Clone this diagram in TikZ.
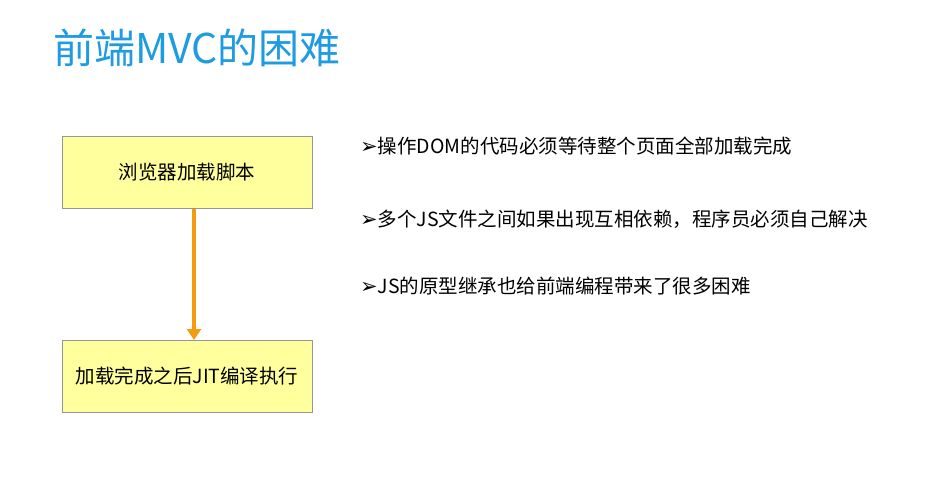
\documentclass[tikz,border=0pt]{standalone}
\usepackage{fontspec}
\setmainfont{Noto Sans CJK SC}
\newfontfamily\symfont{DejaVu Sans}
\usepackage{xcolor}
\definecolor{TitleBlue}{RGB}{30,155,225}
\definecolor{BoxFill}{RGB}{255,255,158}
\definecolor{BoxLine}{RGB}{150,150,150}
\definecolor{ArrowOrange}{RGB}{243,156,18}
\usetikzlibrary{arrows.meta}
\tikzstyle{StepBox}=[rectangle,draw=BoxLine,fill=BoxFill,line width=1pt,
minimum width=250pt,minimum height=72pt,inner sep=0pt,
font=\fontsize{19.5}{22}\selectfont]
\tikzstyle{Flow}=[draw=ArrowOrange,line width=3.5pt,
-{Triangle[width=14pt,length=11pt]}]
\tikzstyle{Point}=[anchor=west,inner sep=0pt,font=\fontsize{19.5}{22}\selectfont]
\tikzstyle{Title}=[anchor=west,inner sep=0pt,text=TitleBlue,
font=\fontsize{41}{45}\selectfont]
\newcommand{\Bul}{{\symfont\fontsize{21}{24}\selectfont ➢}}

\begin{document}
\begin{tikzpicture}[x=1pt,y=-1pt]
    \useasboundingbox(0,0)rectangle(935,483);
    \node[Title](title)at(53,48){前端MVC的困难};
    \node[StepBox](load)at(187,172.5){浏览器加载脚本};
    \node[StepBox](jit)at(187,376.5){加载完成之后JIT编译执行};
    \draw[Flow]([xshift=7pt]load.south)--([xshift=7pt]jit.north);
    \node[Point](p1)at(360,146){\Bul 操作DOM的代码必须等待整个页面全部加载完成};
    \node[Point](p2)at(360,219){\Bul 多个JS文件之间如果出现互相依赖，程序员必须自己解决};
    \node[Point](p3)at(360,286){\Bul JS的原型继承也给前端编程带来了很多困难};
\end{tikzpicture}
\end{document}
